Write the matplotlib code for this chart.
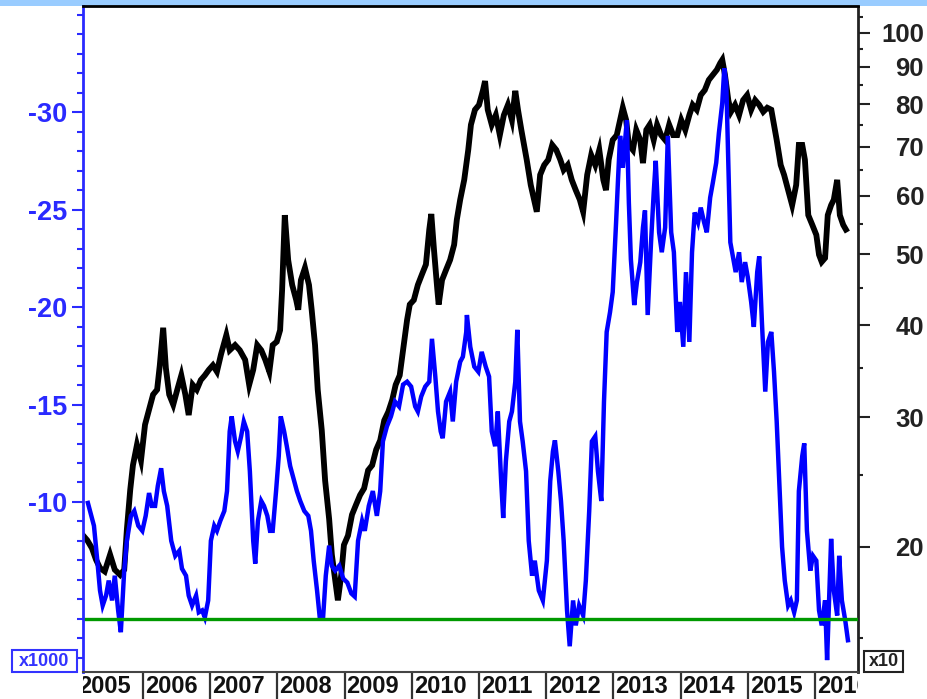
import matplotlib
matplotlib.use('Agg')
import matplotlib.pyplot as plt
from matplotlib.ticker import FixedLocator, NullFormatter
from matplotlib.patches import Rectangle

plt.rcParams['font.family'] = ['Liberation Sans', 'DejaVu Sans']

# ---- data (decimal years) ----
black_dates = [2005.11, 2005.17, 2005.24, 2005.30, 2005.36, 2005.43, 2005.51, 2005.58, 2005.66, 2005.72,
               2005.76, 2005.81, 2005.85, 2005.91, 2005.97, 2006.03, 2006.09, 2006.15, 2006.21, 2006.25,
               2006.30, 2006.34, 2006.39, 2006.45, 2006.51, 2006.57, 2006.63, 2006.68, 2006.74, 2006.80,
               2006.86, 2006.92, 2006.98, 2007.04, 2007.10, 2007.16, 2007.24, 2007.29, 2007.37, 2007.44,
               2007.52, 2007.58, 2007.64, 2007.70, 2007.76, 2007.82, 2007.88, 2007.93, 2007.99, 2008.04,
               2008.07, 2008.11, 2008.16, 2008.22, 2008.28, 2008.31, 2008.35, 2008.41, 2008.47, 2008.51,
               2008.56, 2008.60, 2008.66, 2008.71, 2008.77, 2008.81, 2008.86, 2008.90, 2008.95, 2008.99,
               2009.05, 2009.11, 2009.17, 2009.23, 2009.29, 2009.35, 2009.41, 2009.47, 2009.53, 2009.59,
               2009.65, 2009.71, 2009.76, 2009.82, 2009.88, 2009.93, 2009.97, 2010.03, 2010.09, 2010.15,
               2010.21, 2010.26, 2010.29, 2010.33, 2010.38, 2010.40, 2010.45, 2010.51, 2010.57, 2010.63,
               2010.67, 2010.72, 2010.78, 2010.84, 2010.88, 2010.94, 2011.00, 2011.06, 2011.09, 2011.13,
               2011.19, 2011.25, 2011.31, 2011.37, 2011.43, 2011.49, 2011.54, 2011.58, 2011.63, 2011.67,
               2011.71, 2011.77, 2011.82, 2011.86, 2011.91, 2011.97, 2012.03, 2012.09, 2012.15, 2012.21,
               2012.26, 2012.32, 2012.38, 2012.44, 2012.50, 2012.55, 2012.61, 2012.67, 2012.73, 2012.79,
               2012.85, 2012.89, 2012.93, 2012.99, 2013.05, 2013.10, 2013.14, 2013.19, 2013.23, 2013.29,
               2013.34, 2013.40, 2013.44, 2013.49, 2013.54, 2013.60, 2013.65, 2013.71, 2013.77, 2013.83,
               2013.89, 2013.95, 2014.01, 2014.07, 2014.13, 2014.18, 2014.24, 2014.30, 2014.36, 2014.42,
               2014.48, 2014.54, 2014.59, 2014.62, 2014.66, 2014.71, 2014.75, 2014.81, 2014.87, 2014.93,
               2014.99, 2015.05, 2015.11, 2015.17, 2015.23, 2015.29, 2015.35, 2015.39, 2015.43, 2015.49,
               2015.54, 2015.60, 2015.66, 2015.72, 2015.76, 2015.81, 2015.85, 2015.90, 2015.96, 2016.02,
               2016.06, 2016.10, 2016.15, 2016.19, 2016.24, 2016.28, 2016.33, 2016.37, 2016.42, 2016.46]
black_vals = [20.7, 20.4, 19.9, 19.2, 18.7, 18.5, 19.5, 18.6, 18.3, 18.6,
              21.1, 23.9, 25.8, 27.5, 26.2, 29.3, 30.7, 32.2, 32.7, 35.3,
              39.7, 35.0, 32.2, 31.2, 32.7, 34.2, 32.2, 30.2, 33.2, 32.7,
              33.7, 34.2, 34.8, 35.3, 34.6, 36.5, 38.8, 37.0, 37.6, 37.0,
              35.9, 33.2, 34.8, 37.6, 37.0, 35.9, 34.6, 37.6, 38.0, 39.4,
              44.7, 56.5, 49.1, 45.4, 43.3, 42.0, 46.1, 47.9, 45.4, 42.0,
              37.6, 32.7, 28.8, 24.6, 21.8, 19.5, 18.0, 16.9, 18.3, 20.1,
              20.7, 22.1, 22.8, 23.5, 24.0, 25.4, 25.8, 27.1, 27.9, 29.7,
              30.5, 31.7, 33.2, 34.2, 37.6, 40.7, 42.7, 43.3, 45.4, 46.9,
              48.4, 54.0, 56.7, 50.7, 44.7, 42.7, 46.1, 47.6, 49.1, 51.5,
              55.7, 59.3, 63.1, 69.3, 75.0, 78.6, 79.8, 83.6, 86.0, 78.6,
              75.0, 77.3, 72.6, 77.3, 79.8, 76.1, 83.4, 78.6, 73.8, 70.4,
              67.2, 62.1, 59.3, 57.1, 64.1, 66.1, 67.2, 70.4, 69.3, 67.2,
              65.1, 66.1, 63.1, 61.1, 59.3, 57.1, 64.1, 68.2, 66.1, 69.3,
              63.1, 61.1, 67.2, 71.5, 72.6, 76.1, 79.1, 76.1, 70.4, 69.3,
              73.8, 71.5, 66.5, 73.8, 75.0, 71.5, 75.0, 72.6, 71.5, 75.0,
              72.6, 72.6, 76.1, 73.8, 77.3, 79.8, 78.6, 82.3, 83.6, 86.3,
              87.7, 89.1, 91.0, 91.9, 87.7, 81.0, 78.1, 79.8, 77.3, 81.0,
              82.3, 78.6, 81.0, 79.8, 78.1, 79.1, 78.6, 75.0, 71.5, 66.1,
              64.1, 61.1, 58.3, 62.1, 70.4, 70.4, 67.2, 56.5, 54.8, 53.1,
              49.9, 48.8, 49.4, 56.5, 58.3, 59.3, 63.1, 56.5, 54.8, 54.0]

blue_dates = [2005.18, 2005.23, 2005.27, 2005.32, 2005.36, 2005.40, 2005.45, 2005.49, 2005.54, 2005.58,
              2005.63, 2005.67, 2005.72, 2005.76, 2005.82, 2005.87, 2005.93, 2005.99, 2006.04, 2006.09,
              2006.13, 2006.18, 2006.22, 2006.27, 2006.31, 2006.36, 2006.42, 2006.48, 2006.54, 2006.58,
              2006.64, 2006.68, 2006.73, 2006.79, 2006.83, 2006.88, 2006.92, 2006.97, 2007.01, 2007.06,
              2007.10, 2007.15, 2007.21, 2007.25, 2007.29, 2007.32, 2007.37, 2007.41, 2007.46, 2007.50,
              2007.55, 2007.59, 2007.64, 2007.67, 2007.71, 2007.76, 2007.80, 2007.85, 2007.89, 2007.93,
              2007.98, 2008.02, 2008.05, 2008.10, 2008.14, 2008.19, 2008.25, 2008.29, 2008.34, 2008.40,
              2008.46, 2008.50, 2008.54, 2008.59, 2008.63, 2008.68, 2008.72, 2008.77, 2008.81, 2008.86,
              2008.92, 2008.98, 2009.04, 2009.10, 2009.15, 2009.20, 2009.26, 2009.30, 2009.36, 2009.42,
              2009.48, 2009.53, 2009.57, 2009.63, 2009.69, 2009.75, 2009.81, 2009.87, 2009.93, 2009.99,
              2010.05, 2010.09, 2010.14, 2010.20, 2010.26, 2010.30, 2010.35, 2010.39, 2010.43, 2010.46,
              2010.51, 2010.57, 2010.61, 2010.66, 2010.72, 2010.76, 2010.81, 2010.82, 2010.87, 2010.93,
              2010.99, 2011.04, 2011.10, 2011.15, 2011.19, 2011.24, 2011.28, 2011.33, 2011.36, 2011.40,
              2011.45, 2011.49, 2011.54, 2011.57, 2011.61, 2011.65, 2011.70, 2011.74, 2011.79, 2011.83,
              2011.89, 2011.95, 2012.01, 2012.06, 2012.10, 2012.13, 2012.18, 2012.22, 2012.26, 2012.31,
              2012.35, 2012.40, 2012.44, 2012.49, 2012.55, 2012.59, 2012.64, 2012.68, 2012.73, 2012.77,
              2012.82, 2012.86, 2012.90, 2012.95, 2012.99, 2013.04, 2013.07, 2013.10, 2013.14, 2013.19,
              2013.20, 2013.23, 2013.26, 2013.31, 2013.35, 2013.40, 2013.44, 2013.47, 2013.51, 2013.56,
              2013.60, 2013.63, 2013.68, 2013.72, 2013.77, 2013.81, 2013.86, 2013.90, 2013.95, 2013.99,
              2014.04, 2014.08, 2014.13, 2014.17, 2014.21, 2014.26, 2014.30, 2014.35, 2014.39, 2014.44,
              2014.48, 2014.53, 2014.57, 2014.62, 2014.65, 2014.68, 2014.71, 2014.74, 2014.78, 2014.82,
              2014.87, 2014.91, 2014.96, 2015.00, 2015.05, 2015.09, 2015.14, 2015.17, 2015.21, 2015.26,
              2015.30, 2015.35, 2015.39, 2015.43, 2015.48, 2015.51, 2015.55, 2015.60, 2015.64, 2015.69,
              2015.73, 2015.76, 2015.81, 2015.84, 2015.88, 2015.93, 2015.97, 2016.02, 2016.06, 2016.10,
              2016.15, 2016.18, 2016.21, 2016.24, 2016.28, 2016.33, 2016.36, 2016.40, 2016.45, 2016.49]
blue_vals = [-9.95, -9.29, -8.78, -6.99, -5.46, -4.69, -5.20, -5.97, -4.95, -6.22,
             -4.44, -3.32, -6.48, -8.01, -9.29, -9.54, -8.78, -8.52, -9.29, -10.46,
             -9.80, -9.80, -10.82, -11.73, -10.56, -9.80, -8.01, -7.24, -7.50, -6.58,
             -6.22, -5.20, -4.69, -5.20, -4.34, -4.44, -4.08, -4.95, -8.01, -8.78,
             -8.52, -9.03, -9.54, -10.56, -13.62, -14.39, -13.11, -12.60, -13.37, -14.13,
             -13.62, -11.58, -8.01, -6.84, -9.03, -10.05, -9.80, -9.29, -8.52, -8.52,
             -10.56, -12.35, -14.39, -13.62, -12.86, -11.84, -11.07, -10.56, -10.05, -9.54,
             -9.29, -8.52, -6.99, -5.46, -4.08, -4.08, -6.22, -7.76, -6.73, -6.48,
             -6.73, -6.07, -5.87, -5.31, -5.15, -8.01, -9.03, -8.52, -9.80, -10.56,
             -9.29, -10.56, -13.11, -13.88, -14.39, -15.15, -14.90, -16.02, -16.17, -15.92,
             -14.90, -14.64, -15.41, -15.92, -16.17, -18.37, -16.43, -14.64, -13.62, -13.27,
             -15.15, -15.66, -14.13, -16.17, -17.19, -17.45, -18.72, -19.59, -17.96, -16.94,
             -16.68, -17.70, -16.94, -16.43, -13.62, -12.86, -14.64, -11.07, -9.18, -12.09,
             -14.13, -14.64, -16.17, -18.83, -14.13, -13.11, -11.58, -8.01, -6.22, -6.99,
             -5.46, -4.95, -6.99, -11.07, -12.60, -13.16, -11.58, -10.05, -8.01, -4.44,
             -2.60, -4.95, -3.67, -4.69, -4.18, -5.97, -9.54, -13.11, -13.37, -11.58,
             -10.05, -15.15, -18.72, -19.74, -20.77, -24.34, -26.63, -28.78, -27.14, -29.18,
             -29.59, -25.36, -22.45, -20.10, -21.28, -22.30, -24.08, -24.95, -19.59, -23.32,
             -25.87, -27.50, -23.83, -22.81, -24.08, -28.78, -23.83, -22.81, -18.72, -20.26,
             -17.96, -21.79, -18.21, -22.81, -24.85, -24.34, -25.10, -24.34, -23.83, -25.61,
             -26.38, -27.40, -28.93, -30.46, -32.24, -31.48, -27.40, -23.32, -22.55, -21.79,
             -22.81, -21.28, -22.30, -21.53, -20.26, -18.98, -21.79, -22.60, -19.23, -15.66,
             -18.21, -18.72, -16.68, -14.13, -10.05, -7.70, -5.97, -4.69, -4.95, -4.34,
             -4.95, -10.56, -12.35, -13.01, -8.52, -6.48, -7.24, -6.99, -4.44, -3.67,
             -4.95, -1.89, -4.95, -8.11, -5.46, -4.18, -7.24, -4.95, -3.93, -2.91]

threshold = -4
years = list(range(2005, 2017))
left_ticks = [-30, -25, -20, -15, -10]
left_minor = list(range(-35, -1))
right_ticks = [20, 30, 40, 50, 60, 70, 80, 90, 100]
right_minor = [15, 25, 35, 45, 55, 65, 75, 85, 95, 105]

# ---- figure ----
W, H = 928, 699
fig = plt.figure(figsize=(W / 100, H / 100), dpi=100)
fig.patches.append(Rectangle((0, 1 - 6 / H), 1, 6 / H, transform=fig.transFigure,
                             facecolor='#99ccff', edgecolor='none', zorder=0))

L, R, T, B = 83, 858, 6, 672
ax = fig.add_axes([L / W, 1 - B / H, (R - L) / W, (B - T) / H])
ax2 = ax.twinx()
ax.set_zorder(ax2.get_zorder() + 1)
ax.patch.set_visible(False)

xlim = (2005.107, 2016.64)
ax.set_xlim(*xlim)
ax2.set_xlim(*xlim)

# black line on right log axis
ax2.plot(black_dates, black_vals, color='black', lw=4.2, solid_joinstyle='miter')
ax2.set_yscale('log')
ax2.set_ylim(13.5, 108.8)
ax2.yaxis.set_major_locator(FixedLocator(right_ticks))
ax2.yaxis.set_minor_locator(FixedLocator(right_minor))
ax2.yaxis.set_minor_formatter(NullFormatter())
ax2.set_yticklabels([str(t) for t in right_ticks], ha='right')
ax2.tick_params(axis='y', which='major', direction='out', length=8.6, width=1.5,
                colors='#222222', labelsize=18.5, pad=39)
ax2.tick_params(axis='y', which='minor', direction='out', length=3.6, width=1.5, colors='#222222')
for lab in ax2.get_yticklabels():
    lab.set_fontweight('bold')

# blue line on left inverted axis
ax.plot(blue_dates, blue_vals, color='#0000ff', lw=3.2, solid_joinstyle='miter')
ax.axhline(threshold, color='#009900', lw=2.4)
ax.set_ylim(-1.28, -35.44)
ax.yaxis.set_major_locator(FixedLocator(left_ticks))
ax.yaxis.set_minor_locator(FixedLocator(left_minor))
ax.yaxis.set_minor_formatter(NullFormatter())
ax.set_yticklabels([str(t) for t in left_ticks])
ax.tick_params(axis='y', which='major', direction='out', length=8, width=1.5,
               colors='#2a2aff', labelsize=19.5, pad=3)
ax.tick_params(axis='y', which='minor', direction='out', length=4.3, width=1.5, colors='#2a2aff')
for lab in ax.get_yticklabels():
    lab.set_fontweight('bold')

for a in (ax, ax2):
    a.tick_params(axis='x', which='both', bottom=False, top=False, labelbottom=False)

for a in (ax, ax2):
    for s in a.spines.values():
        s.set_visible(False)
ax.spines['left'].set_visible(True)
ax.spines['left'].set_color('#2a2aff')
ax.spines['left'].set_linewidth(2)
ax.spines['top'].set_visible(True)
ax.spines['top'].set_color('black')
ax.spines['top'].set_linewidth(2)
ax.spines['bottom'].set_visible(True)
ax.spines['bottom'].set_color('#444444')
ax.spines['bottom'].set_linewidth(1.5)
ax2.spines['right'].set_visible(True)
ax2.spines['right'].set_color('#222222')
ax2.spines['right'].set_linewidth(2)

# year strip below
sax = fig.add_axes([L / W, 0, (R - L) / W, (H - B) / H])
sax.set_xlim(*xlim)
sax.set_ylim(0, 1)
sax.axis('off')
for y in years:
    sax.axvline(y, color='#333333', lw=1.6)
    sax.text(y + 0.03, 0.45, str(y), ha='left', va='center', fontsize=17,
             fontweight='bold', color='#111111', clip_on=True)

# unit boxes
fig.patches.append(Rectangle((12 / W, 1 - 672 / H), 65 / W, 22 / H, transform=fig.transFigure,
                             fill=False, edgecolor='#3333ff', lw=1.5))
fig.text(44.5 / W, 1 - 661 / H, 'x1000', ha='center', va='center', fontsize=13,
         fontweight='bold', color='#3333ff')
fig.patches.append(Rectangle((864 / W, 1 - 672 / H), 39 / W, 21 / H, transform=fig.transFigure,
                             fill=False, edgecolor='#222222', lw=1.5))
fig.text(883.5 / W, 1 - 661.5 / H, 'x10', ha='center', va='center', fontsize=13,
         fontweight='bold', color='#222222')

fig.savefig('out.png', dpi=100)
